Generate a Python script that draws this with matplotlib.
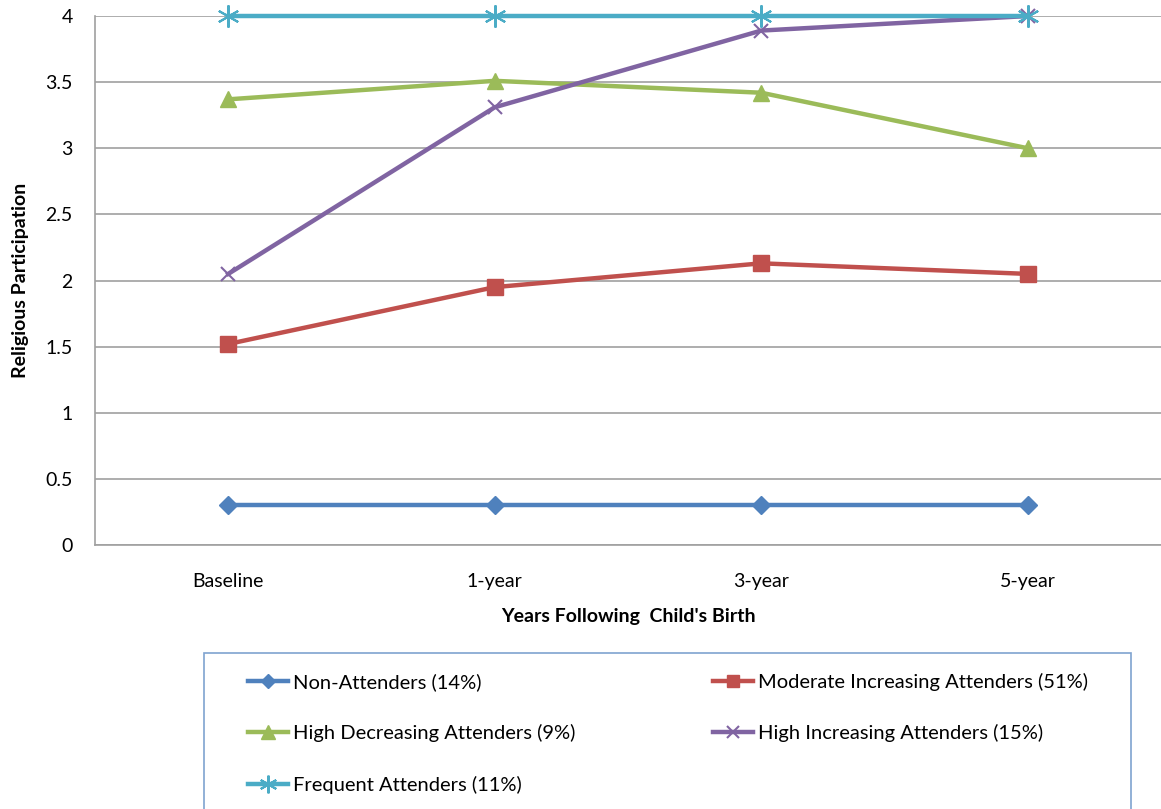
import numpy as np
import matplotlib
matplotlib.use('Agg')
import matplotlib.pyplot as plt
from matplotlib.patches import Rectangle

plt.rcParams['font.family'] = ['Lato', 'DejaVu Sans']

waves = ['Baseline', '1-year', '3-year', '5-year']

non_attenders = [0.30, 0.30, 0.30, 0.30]
moderate_increasing = [1.52, 1.95, 2.13, 2.05]
high_decreasing = [3.37, 3.51, 3.42, 3.00]
high_increasing = [2.05, 3.31, 3.89, 4.00]
frequent = [4.00, 4.00, 4.00, 4.00]

names = ['Non-Attenders (14%)', 'Moderate Increasing Attenders (51%)',
         'High Decreasing Attenders (9%)', 'High Increasing Attenders (15%)',
         'Frequent Attenders (11%)']

fig = plt.figure(figsize=(11.61, 8.09), dpi=100)
ax = fig.add_axes([0.0818, 0.3263, 0.9182, 0.6539])

x = np.arange(len(waves))
grid_col = '#A0A0A0'

h_non, = ax.plot(x, non_attenders, color='#4F81BD', lw=3.2, marker='D', ms=9,
                 label=names[0], zorder=3, clip_on=False)
h_mod, = ax.plot(x, moderate_increasing, color='#C0504D', lw=3.2, marker='s', ms=11,
                 label=names[1], zorder=3, clip_on=False)
h_dec, = ax.plot(x, high_decreasing, color='#9BBB59', lw=3.2, marker='^', ms=12,
                 label=names[2], zorder=3, clip_on=False)
h_inc, = ax.plot(x, high_increasing, color='#8064A2', lw=3.2, marker='x', ms=10,
                 mew=1.5, label=names[3], zorder=3, clip_on=False)
h_freq, = ax.plot(x, frequent, color='#4BACC6', lw=3.2, marker=(6, 2, 0), ms=16,
                  mew=1.5, label=names[4], zorder=4, clip_on=False)

ax.set_xlim(-0.5, 3.5)
ax.set_ylim(0, 4)
ax.set_yticks(np.arange(0, 4.01, 0.5))
ax.set_yticklabels(['0', '0.5', '1', '1.5', '2', '2.5', '3', '3.5', '4'])
ax.set_xticks(x)
ax.set_xticklabels(waves)
ax.tick_params(length=0, labelsize=14)
ax.tick_params(axis='y', pad=16)
ax.tick_params(axis='x', pad=20)
ax.yaxis.grid(True, color=grid_col, lw=1.2)
ax.set_axisbelow(True)
for s in ['top', 'right']:
    ax.spines[s].set_visible(False)
for s in ['left', 'bottom']:
    ax.spines[s].set_color(grid_col)
    ax.spines[s].set_linewidth(1.2)

ax.set_ylabel('Religious Participation', fontsize=14, fontweight='bold', labelpad=12)
ax.set_xlabel("Years Following  Child's Birth", fontsize=14, fontweight='bold', labelpad=13)

# legend frame runs off the bottom of the figure
W, H = 1161, 809
fig.patches.append(Rectangle((204 / W, -0.05), (1131 - 204) / W, (809 - 653) / H + 0.05,
                             transform=fig.transFigure, fill=False,
                             edgecolor='#7FA3D0', lw=1.2))

leg_kw = dict(frameon=False, loc='upper left', fontsize=14.5, handlelength=2.0,
              handletextpad=0.25, labelspacing=1.65, borderpad=0, markerscale=0.8)
col1 = [h_non, h_dec, h_freq]
col2 = [h_mod, h_inc]
fig.legend(col1, [h.get_label() for h in col1],
           bbox_to_anchor=(238 / W, 1 - 663 / H), **leg_kw)
fig.legend(col2, [h.get_label() for h in col2],
           bbox_to_anchor=(703 / W, 1 - 663 / H), **leg_kw)

fig.savefig('out.png', dpi=100)
